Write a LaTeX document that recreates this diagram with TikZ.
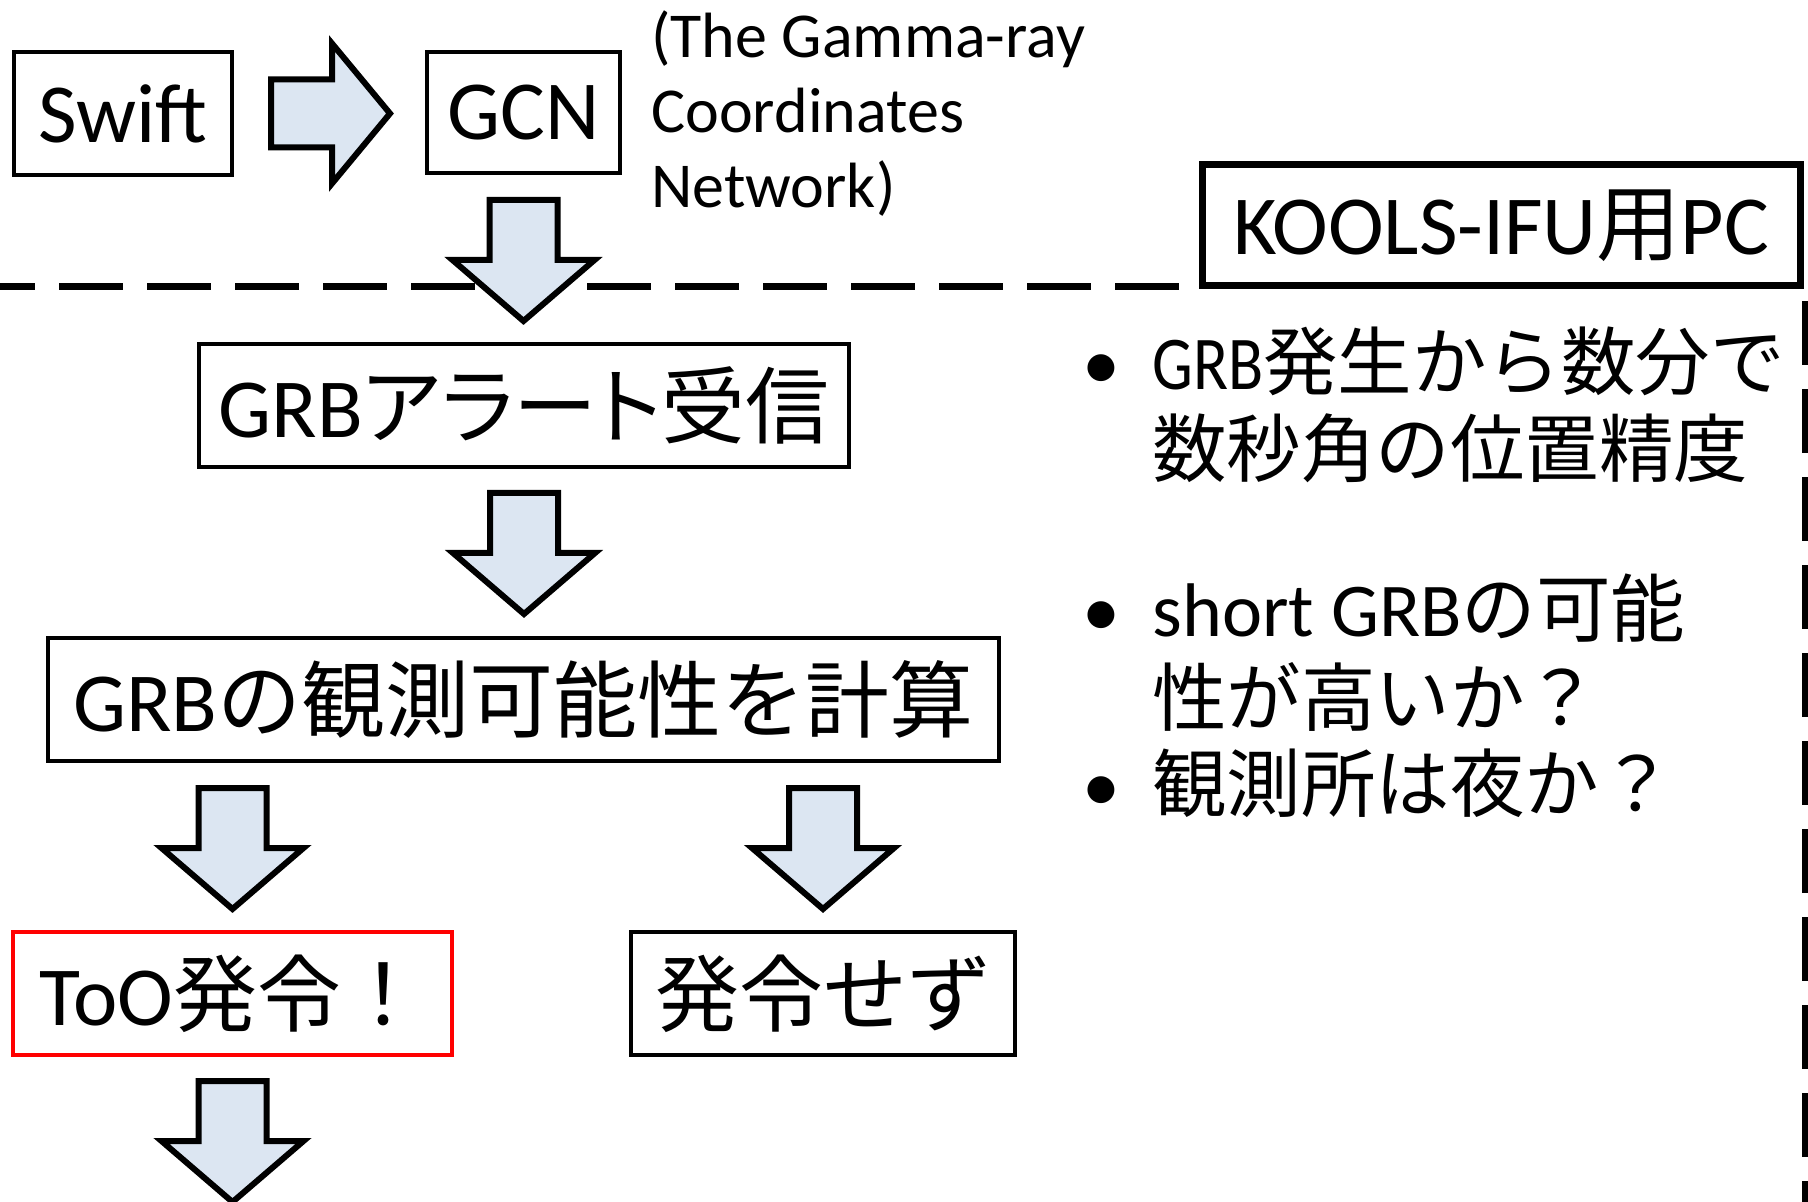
\documentclass[tikz,border=0pt]{standalone}
\usepackage{fontspec}
\setmainfont{Carlito}
\newfontfamily\jp{Noto Sans CJK JP}
\newfontfamily\jpk{Noto Sans CJK JP}[RawFeature=+palt]
\newfontfamily\jpb{Noto Sans CJK JP}[Scale=0.98]
\usetikzlibrary{calc}
\definecolor{arrfill}{HTML}{DCE6F2}
\begin{document}
\begin{tikzpicture}[x=0.5pt,y=-0.5pt,
  box/.style={draw=black, line width=2pt, inner sep=0pt, fill=white},
  big/.style={font=\fontsize{42}{50}\selectfont},
  bul/.style={font=\fontsize{38}{45}\selectfont, anchor=base west, inner sep=0pt},
  ann/.style={font=\fontsize{32}{38}\selectfont, anchor=base west, inner sep=0pt},
  arr/.style={draw=black, line width=3pt, fill=arrfill, line join=miter},
  dashline/.style={line width=3.5pt, dash pattern=on 32pt off 12pt},
  pics/downarr/.style={code={\draw[arr] (-34,0) -- (-34,60) -- (-71,60) -- (0,121) -- (71,60) -- (34,60) -- (34,0) -- cycle;}},
  pics/rightarr/.style={code={\draw[arr] (0,-34) -- (61,-34) -- (61,-70) -- (119,0) -- (61,70) -- (61,34) -- (0,34) -- cycle;}}
]
\useasboundingbox (0,0) rectangle (1808,1202);

% top row
\node[box, big, minimum width=109pt, minimum height=61.5pt] (swift) at (123,113.5) {Swift};
\node[box, big, minimum width=96.5pt, minimum height=60.5pt] (gcn) at (523.5,112.5) {GCN};
\node[ann] (ann1) at (651,58) {(The Gamma-ray};
\node[ann] (ann2) at (651,133) {Coordinates};
\node[ann] (ann3) at (651,208) {Network)};
\node[box, big, line width=3.5pt, minimum width=299pt, minimum height=60.5pt] (pc) at (1501,225.5) {KOOLS-IFU{\jp 用}PC};

% dashed boundaries
\coordinate (hs) at (0,287);
\coordinate (he) at (1179,287);
\coordinate (vs) at (1805,301);
\coordinate (ve) at (1805,1202);
\draw[dashline, dash phase=14.5pt] (hs) -- (he);
\draw[dashline] (vs) -- (ve);

% flow boxes
\node[box, big, minimum width=325pt, minimum height=61.5pt] (alert) at (524,405.5) {GRB{\jpk アラート}{\jp 受信}};
\node[box, big, minimum width=475.5pt, minimum height=61.5pt] (calc) at (523.5,699.5) {GRB{\jp の観測可能性を計算}};
\node[box, big, draw=red, minimum width=219.5pt, minimum height=61.5pt] (too) at (232.5,993.5) {ToO{\jp 発令！}};
\node[box, big, minimum width=192pt, minimum height=61.5pt] (nosend) at (823,993.5) {{\jp 発令せず}};

% block arrows
\pic at ($(swift.east)+(37,0)$) {rightarr};
\pic at ($(gcn.south)+(0,25)$) {downarr};
\pic at ($(alert.south)+(0,24)$) {downarr};
\pic at ($(too.north |- calc.south)+(0,25)$) {downarr};
\pic at ($(nosend.north |- calc.south)+(0,25)$) {downarr};
\pic at ($(too.south)+(0,24)$) {downarr};

% bullets
\node[bul] (d1) at (1082,390) {•};
\node[bul] (l1) at (1152,390) {\scalebox{0.85}[1]{GRB}{\jpb 発生から数分で}};
\node[bul] (l2) at (1152,477) {{\jpb 数秒角の位置精度}};
\node[bul] (d2) at (1082,637) {•};
\node[bul] (l3) at (1152,637) {short GRB{\jpb の可能}};
\node[bul] (l4) at (1152,725) {{\jpb 性が高いか？}};
\node[bul] (d3) at (1082,811) {•};
\node[bul] (l5) at (1152,811) {{\jpb 観測所は夜か？}};
\end{tikzpicture}
\end{document}
